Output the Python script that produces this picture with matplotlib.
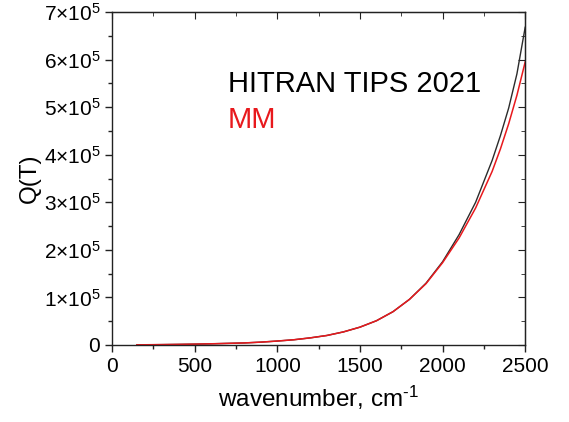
import matplotlib
matplotlib.use("Agg")
import matplotlib.pyplot as plt
from matplotlib.ticker import FixedLocator, FuncFormatter, MultipleLocator

# values
wavenumber = [150, 200, 300, 400, 500, 600, 700, 800, 900, 1000, 1100, 1200, 1300,
              1400, 1500, 1600, 1700, 1800, 1900, 2000, 2100, 2200, 2300, 2350,
              2400, 2450, 2500]
q_hitran = [300, 450, 800, 1250, 1800, 2500, 3400, 4300, 6000, 8300, 11000, 15000, 20000,
            27500, 37500, 51000, 70000, 96000, 130000, 175000, 232000, 300000, 388000, 440000,
            498000, 570000, 668000]
q_mm = [300, 450, 800, 1250, 1800, 2500, 3400, 4300, 6000, 8300, 11000, 15000, 20000,
        27500, 37500, 51000, 70000, 96000, 129000, 173000, 225000, 288000, 365000, 412000,
        465000, 525000, 595000]

y_ticks = [0, 1e5, 2e5, 3e5, 4e5, 5e5, 6e5, 7e5]

plt.rcParams['font.family'] = ['Liberation Sans', 'DejaVu Sans']
plt.rcParams['mathtext.fontset'] = 'custom'
plt.rcParams['mathtext.rm'] = 'Liberation Sans'
plt.rcParams['mathtext.it'] = 'Liberation Sans:italic'

fig = plt.figure(figsize=(5.69, 4.22), dpi=100)
ax = fig.add_axes([0.197, 0.1825, 0.726, 0.789])

ax.plot(wavenumber, q_hitran, color='#2b2b2b', lw=1.0)
ax.plot(wavenumber, q_mm, color='#e8191d', lw=1.1)

ax.set_xlim(0, 2500)
ax.set_ylim(0, 7e5)

ax.xaxis.set_major_locator(MultipleLocator(500))
ax.xaxis.set_minor_locator(MultipleLocator(250))
ax.yaxis.set_major_locator(FixedLocator(y_ticks))
ax.yaxis.set_minor_locator(MultipleLocator(5e4))


def sci_fmt(v, pos):
    if v == 0:
        return '0'
    return r'$%d{\times}10^{5}$' % round(v / 1e5)


ax.yaxis.set_major_formatter(FuncFormatter(sci_fmt))

ax.tick_params(which='both', labelsize=15, width=1.0, color='#222222')
ax.tick_params(which='major', length=5)
ax.tick_params(which='minor', length=3)
ax.tick_params(axis='both', which='both', direction='out', top=False, right=False)
# inward ticks on top and right
sec_x = ax.secondary_xaxis('top')
sec_x.xaxis.set_major_locator(MultipleLocator(500))
sec_x.xaxis.set_minor_locator(MultipleLocator(250))
sec_x.tick_params(which='both', direction='in', labeltop=False, color='#222222')
sec_x.tick_params(which='major', length=5)
sec_x.tick_params(which='minor', length=3)
sec_y = ax.secondary_yaxis('right')
sec_y.yaxis.set_major_locator(FixedLocator(y_ticks))
sec_y.yaxis.set_minor_locator(MultipleLocator(5e4))
sec_y.tick_params(which='both', direction='in', labelright=False, color='#222222')
sec_y.tick_params(which='major', length=5)
sec_y.tick_params(which='minor', length=3)

for s in ax.spines.values():
    s.set_linewidth(1.0)
    s.set_color('#222222')

ax.set_xlabel(r'wavenumber, cm$^{\text{-}1}$', fontsize=17.5, labelpad=6)
ax.set_ylabel('Q(T)', fontsize=17.5, labelpad=2)

ax.text(0.28, 0.785, 'HITRAN TIPS 2021', transform=ax.transAxes, fontsize=21,
        color='black', va='center', ha='left')
ax.text(0.28, 0.677, 'MM', transform=ax.transAxes, fontsize=21,
        color='#e8191d', va='center', ha='left')

fig.savefig('out.png', dpi=100)
